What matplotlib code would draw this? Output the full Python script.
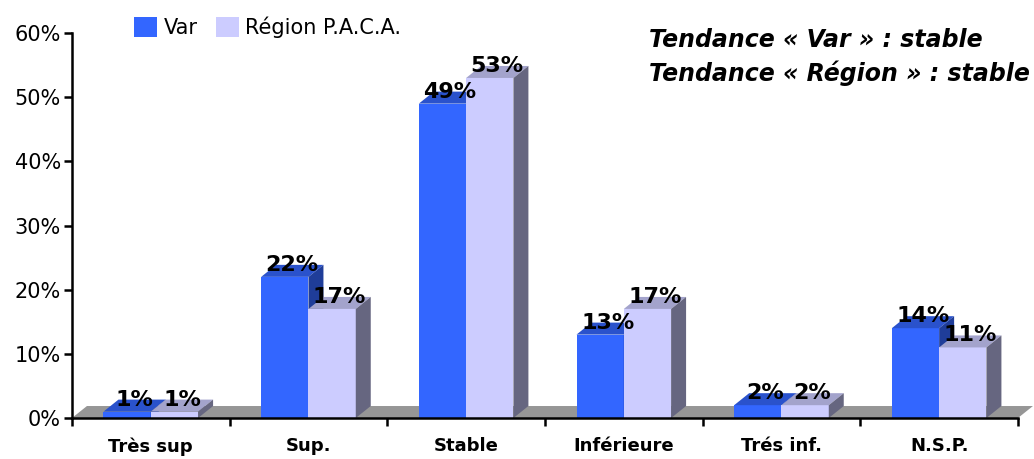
import matplotlib.pyplot as plt
from matplotlib.patches import Polygon
import numpy as np

# Data
categories = ['Très sup', 'Sup.', 'Stable', 'Inférieure', 'Trés inf.', 'N.S.P.']
var_values = [1, 22, 49, 13, 2, 14]
paca_values = [1, 17, 53, 17, 2, 11]
series_names = ['Var', 'Région P.A.C.A.']
y_ticks = [0, 10, 20, 30, 40, 50, 60]

# 3D look
bar_w = 0.3
dx = 0.095   # depth offset in category units
dy = 1.87    # depth offset in percent

front_cols = ['#3366FF', '#CCCCFF']
top_cols = ['#2A52CC', '#A3A3CC']
side_cols = ['#1F3D99', '#666680']


def draw_box(ax, x0, w, h, i):
    ax.add_patch(Polygon([(x0, 0), (x0 + w, 0), (x0 + w, h), (x0, h)],
                         closed=True, fc=front_cols[i], ec='none', zorder=3))
    ax.add_patch(Polygon([(x0, h), (x0 + w, h), (x0 + w + dx, h + dy), (x0 + dx, h + dy)],
                         closed=True, fc=top_cols[i], ec='none', zorder=3, clip_on=False))
    ax.add_patch(Polygon([(x0 + w, 0), (x0 + w + dx, dy), (x0 + w + dx, h + dy), (x0 + w, h)],
                         closed=True, fc=side_cols[i], ec='none', zorder=3, clip_on=False))


fig = plt.figure(figsize=(10.34, 4.59), dpi=100)
ax = fig.add_axes([0.0696, 0.0893, 0.9149, 0.8387])

n = len(categories)
ax.set_xlim(0, n)
ax.set_ylim(0, 60)

# floor
ax.add_patch(Polygon([(0, 0), (n, 0), (n + dx, dy), (dx, dy)], closed=True,
                     fc='#969696', ec='none', zorder=1, clip_on=False))

for k in range(n):
    c = k + 0.5
    draw_box(ax, c - bar_w, bar_w, var_values[k], 0)
    draw_box(ax, c, bar_w, paca_values[k], 1)
    ax.text(c - bar_w / 2 + dx / 2, var_values[k] + dy, f'{var_values[k]}%',
            ha='center', va='center', fontsize=16, fontweight='bold', zorder=5)
    ax.text(c + bar_w / 2 + dx / 2, paca_values[k] + dy, f'{paca_values[k]}%',
            ha='center', va='center', fontsize=16, fontweight='bold', zorder=5)

# axes styling
for s in ['top', 'right']:
    ax.spines[s].set_visible(False)
ax.spines['left'].set_linewidth(1.8)
ax.spines['bottom'].set_linewidth(1.8)
ax.spines['left'].set_zorder(6)
ax.spines['bottom'].set_zorder(6)

ax.set_yticks(y_ticks)
ax.set_yticklabels([f'{t}%' for t in y_ticks], fontsize=15)
ax.tick_params(axis='y', length=6, width=1.8, direction='out', pad=2)

ax.set_xticks(np.arange(n + 1))
ax.set_xticklabels([])
ax.tick_params(axis='x', which='major', length=6, width=1.8, direction='out')
ax.set_xticks(np.arange(n) + 0.5, minor=True)
ax.set_xticklabels(categories, minor=True, fontsize=13, fontweight='bold')
ax.tick_params(axis='x', which='minor', length=0, pad=14)

# legend
h1 = plt.Rectangle((0, 0), 1, 1, fc=front_cols[0], ec='none')
h2 = plt.Rectangle((0, 0), 1, 1, fc=front_cols[1], ec='none')
ax.legend([h1, h2], series_names, loc='center left', bbox_to_anchor=(0.066, 1.015),
          ncol=2, frameon=False, fontsize=15, handlelength=1.1, handleheight=1.1,
          handletextpad=0.3, columnspacing=0.9, borderaxespad=0, borderpad=0)

fig.text(0.628, 0.913, 'Tendance « Var » : stable', fontsize=17,
         fontweight='bold', style='italic', va='center')
fig.text(0.628, 0.841, 'Tendance « Région » : stable', fontsize=17,
         fontweight='bold', style='italic', va='center')

fig.savefig('out.png', dpi=100)
